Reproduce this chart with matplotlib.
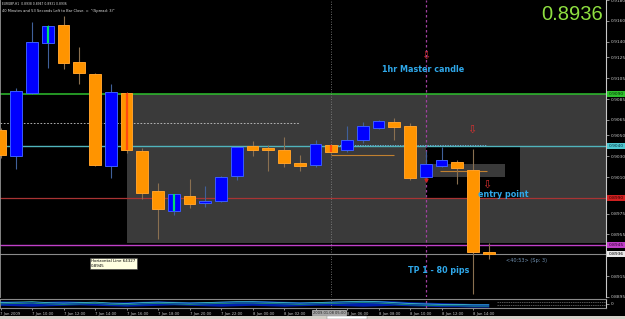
import matplotlib
matplotlib.use('Agg')
import matplotlib.pyplot as plt
from matplotlib.patches import Rectangle
import matplotlib.transforms as mtransforms

# ---------------- data ----------------
hours = list(range(32))  # 0 = 7 Jan 08:00, hourly bars
opens = [0.9055, 0.9030, 0.9091, 0.9139, 0.9156, 0.9121, 0.9109, 0.9021, 0.9091, 0.9035,
         0.8997, 0.8978, 0.8992, 0.8985, 0.8987, 0.9011, 0.9040, 0.9038, 0.9036, 0.9024,
         0.9022, 0.9041, 0.9036, 0.9046, 0.9057, 0.9063, 0.9059, 0.9010, 0.9021, 0.9025,
         0.9017, 0.8938]
highs = [0.9057, 0.9096, 0.9159, 0.9156, 0.9165, 0.9135, 0.9110, 0.9099, 0.9092, 0.9038,
         0.9004, 0.8994, 0.9008, 0.9002, 0.9011, 0.9039, 0.9045, 0.9041, 0.9049, 0.9031,
         0.9046, 0.9042, 0.9059, 0.9063, 0.9065, 0.9067, 0.9062, 0.9035, 0.9039, 0.9026,
         0.9037, 0.8947]
lows = [0.9028, 0.9018, 0.9090, 0.9115, 0.9114, 0.9099, 0.9021, 0.9009, 0.9033, 0.8989,
        0.8951, 0.8974, 0.8980, 0.8981, 0.8986, 0.9007, 0.9030, 0.9016, 0.9020, 0.9016,
        0.9020, 0.9033, 0.9034, 0.9043, 0.9056, 0.9046, 0.9007, 0.9008, 0.9020, 0.9003,
        0.8898, 0.8931]
closes = [0.9031, 0.9093, 0.9140, 0.9155, 0.9120, 0.9110, 0.9022, 0.9092, 0.9036, 0.8995,
          0.8979, 0.8994, 0.8984, 0.8987, 0.9010, 0.9039, 0.9036, 0.9036, 0.9024, 0.9021,
          0.9042, 0.9034, 0.9046, 0.9059, 0.9064, 0.9058, 0.9009, 0.9023, 0.9026, 0.9019,
          0.8938, 0.8936]
green_marked = [3, 11]
red_marked = [8, 21]

time_tick_idx = list(range(0, 31, 2))
time_tick_labels = ["7 Jan 2009", "7 Jan 10:00", "7 Jan 12:00", "7 Jan 14:00", "7 Jan 16:00",
                    "7 Jan 18:00", "7 Jan 20:00", "7 Jan 22:00", "8 Jan 00:00", "8 Jan 02:00",
                    "", "8 Jan 06:00", "8 Jan 08:00", "8 Jan 10:00", "8 Jan 12:00",
                    "8 Jan 14:00"]
price_ticks = [0.9180, 0.9160, 0.9140, 0.9125, 0.9105, 0.9085, 0.9065, 0.9050, 0.9030,
               0.9010, 0.8975, 0.8955, 0.8915, 0.8895]

level_green = 0.9090
level_cyan = 0.9040
level_red = 0.8990
level_magenta = 0.8945
bid = 0.8936
zone_bottom = 0.8947

ind_hi = [0.80, 0.75, 0.70, 0.75, 0.80, 0.75, 0.70, 0.65, 0.70, 0.75, 0.80, 0.75, 0.70, 0.70,
          0.75, 0.80, 0.85, 0.80, 0.75, 0.70, 0.70, 0.75, 0.80, 0.85, 0.85, 0.80, 0.70, 0.65,
          0.60, 0.55, 0.50, 0.50]
ind_lo = [0.30, 0.25, 0.20, 0.25, 0.30, 0.35, 0.30, 0.25, 0.20, 0.25, 0.30, 0.35, 0.30, 0.25,
          0.20, 0.25, 0.30, 0.25, 0.20, 0.25, 0.30, 0.30, 0.25, 0.20, 0.25, 0.30, 0.25, 0.20,
          0.15, 0.15, 0.10, 0.10]
ind_line = [0.60, 0.65, 0.70, 0.60, 0.55, 0.60, 0.65, 0.55, 0.50, 0.60, 0.65, 0.60, 0.55, 0.60,
            0.65, 0.70, 0.70, 0.65, 0.60, 0.55, 0.60, 0.65, 0.70, 0.75, 0.70, 0.60, 0.50, 0.45,
            0.40, 0.40, 0.35, 0.35]

# ---------------- figure ----------------
W, H = 625, 319
fig = plt.figure(figsize=(W / 100, H / 100), dpi=100, facecolor='black')

def fx(px):
    return px / W

def fy(py):
    return 1 - py / H

ax = fig.add_axes([0, fy(297), fx(606), 297 / H])
ax.set_facecolor('black')
XMIN, XMAX = -0.5 / 15.75, 605.5 / 15.75
ax.set_xlim(XMIN, XMAX)
ax.set_ylim(0.889896, 0.918002)

# zones
ax.add_patch(Rectangle((8, zone_bottom), 40, level_green - zone_bottom,
                       facecolor='#3a3a3a', edgecolor='none', zorder=1))
ax.add_patch(Rectangle((27, level_red), 6, level_cyan - level_red,
                       facecolor='black', edgecolor='none', zorder=1.1))
ax.add_patch(Rectangle((27, 0.9010), 5, 0.0013,
                       facecolor='#3a3a3a', edgecolor='none', zorder=1.2))

# horizontal levels
ax.axhline(level_green, color='#2ec02e', lw=1.1, zorder=2)
ax.axhline(level_cyan, color='#50b4bc', lw=1.0, zorder=2)
ax.axhline(level_red, color='#a83434', lw=0.9, zorder=2)
ax.axhline(level_magenta, color='#c040c8', lw=1.0, zorder=2)
ax.axhline(bid, color='#8a8a8a', lw=0.8, zorder=2)
ax.hlines(0.9062, XMIN, 18.95, colors='#c8c8c8', lw=0.6, linestyles=(0, (2, 2)), zorder=2)
ax.hlines(0.9041, 21.05, 30.9, colors='#70b8e0', lw=0.6, linestyles=(0, (1.5, 1.5)), zorder=2.1)
ax.hlines(0.9031, 21, 25, colors='#c08030', lw=0.8, zorder=2.2)
ax.hlines(0.9016, 27.9, 30.9, colors='#c08030', lw=0.8, zorder=2.2)

# vertical lines
ax.axvline(21, color='#8a8a8a', lw=0.6, linestyle=(0, (1, 2)), zorder=2)
ax.axvline(27, color='#a040a0', lw=0.9, linestyle=(0, (2, 2)), zorder=2)

# candles
for i, o, h, l, c in zip(hours, opens, highs, lows, closes):
    up = c >= o
    fill = '#0000ff' if up else '#ff9400'
    edge = '#3a5cff' if up else '#ffa028'
    wick = '#40609a' if up else '#8a7050'
    ax.vlines(i, l, h, colors=wick, lw=0.8, zorder=3)
    bottom = min(o, c)
    height = max(abs(c - o), 0.00012)
    ax.bar(i, height, width=0.76, bottom=bottom, color=fill, edgecolor=edge,
           linewidth=0.7, zorder=4)
for i in green_marked:
    ax.vlines(i, min(opens[i], closes[i]), max(opens[i], closes[i]),
              colors='#00e070', lw=1.6, zorder=5)
for i in red_marked:
    ax.vlines(i, min(opens[i], closes[i]), max(opens[i], closes[i]),
              colors='#ff4a10', lw=1.6, zorder=5)

# arrows
for (xa, ya) in [(27, 0.9126), (29.9, 0.9055), (30.9, 0.9003)]:
    ax.text(xa, ya, '\u21e9', color='#d83030', fontsize=8, ha='center', va='center',
            family='DejaVu Sans', zorder=6)
ax.plot([27], [0.9007], marker='v', color='#d02020', markersize=2.2, zorder=6)

# annotations
txt_col = '#2fa8ea'
ax.text(24.22, 0.9113, '1hr Master candle', color=txt_col, fontsize=5.8,
        fontweight='bold', ha='left', va='center', zorder=7)
ax.text(30.32, 0.8993, 'entry point', color=txt_col, fontsize=5.8,
        fontweight='bold', ha='left', va='center', zorder=7)
ax.text(25.87, 0.8920, 'TP 1 - 80 pips', color=txt_col, fontsize=5.8,
        fontweight='bold', ha='left', va='center', zorder=7)
ax.text(32.1, 0.8930, '<40:53> (Sp: 3)', color='#7090b0', fontsize=3.6,
        ha='left', va='center', zorder=7)
ax.text(5.75, 0.8931, 'Horizontal Line 64327\n0.8945', color='black', fontsize=2.9,
        ha='left', va='top', linespacing=1.2, zorder=8,
        bbox=dict(boxstyle='square,pad=0.3', facecolor='#ffffe1', edgecolor='#404040',
                  linewidth=0.4))

# axes styling
ax.set_xticks([])
ax.yaxis.tick_right()
ax.set_yticks(price_ticks)
ax.set_yticklabels([f'{v:.4f}' for v in price_ticks])
ax.tick_params(axis='y', colors='#c8c8c8', labelsize=3.2, length=2, width=0.5, pad=1.5)
for s in ['top', 'bottom']:
    ax.spines[s].set_visible(False)
ax.spines['left'].set_color('#9a9a9a')
ax.spines['left'].set_linewidth(0.6)
ax.spines['right'].set_color('#c8c8c8')
ax.spines['right'].set_linewidth(0.8)

# coloured price labels on the right
bt = mtransforms.blended_transform_factory(ax.transAxes, ax.transData)
for val, fc, tc in [(level_green, '#2ec02e', '#003000'), (level_cyan, '#50c8d0', '#003040'),
                    (level_red, '#d02020', '#300000'), (level_magenta, '#c040c8', '#300030'),
                    (bid, '#e8e8e8', '#000000')]:
    ax.text(1.004, val, f'{val:.4f}', transform=bt, fontsize=3.2, color=tc,
            ha='left', va='center', zorder=9, clip_on=False,
            bbox=dict(boxstyle='square,pad=0.25', facecolor=fc, edgecolor='none'))

# indicator strip
ai = fig.add_axes([0, fy(308), fx(606), 9 / H])
ai.set_facecolor('black')
ai.set_xlim(XMIN, XMAX)
ai.set_ylim(0, 1)
ai.fill_between(hours, ind_lo, ind_hi, color='#0020b0', lw=0, zorder=2)
ai.plot(hours, ind_line, color='#40c0c0', lw=0.6, zorder=3)
ai.plot(hours, [v - 0.15 for v in ind_line], color='#20a060', lw=0.5, zorder=3)
ai.hlines([0.35, 0.65], 31.5, XMAX, colors='#7a7a7a', lw=0.5, linestyles=(0, (2, 1.2)))
ai.axvline(21, color='#8a8a8a', lw=0.6, linestyle=(0, (1, 2)))
ai.axvline(27, color='#a040a0', lw=0.9, linestyle=(0, (2, 2)))
ai.yaxis.tick_right()
ai.set_yticks([0.5])
ai.set_yticklabels(['0'])
ai.tick_params(axis='y', colors='#c8c8c8', labelsize=3.2, length=2, width=0.5, pad=1.5)
ai.set_xticks(time_tick_idx)
ai.set_xticklabels(time_tick_labels)
ai.tick_params(axis='x', colors='#c8c8c8', labelsize=2.7, length=1.5, width=0.5, pad=1.2)
for lab in ai.get_xticklabels():
    lab.set_ha('left')
for s in ['top', 'bottom']:
    ai.spines[s].set_color('#8a8a8a')
    ai.spines[s].set_linewidth(0.8)
ai.spines['left'].set_color('#9a9a9a')
ai.spines['left'].set_linewidth(0.6)
ai.spines['right'].set_color('#c8c8c8')
ai.spines['right'].set_linewidth(0.8)

# current cursor time box (covers the 04:00 label, as in the terminal)
ct = mtransforms.blended_transform_factory(ai.transData, fig.transFigure)
fig.text(20.85, fy(312.5), '2009.01.08 05:00', transform=ct, fontsize=2.6, color='#202020',
         ha='center', va='center', zorder=10,
         bbox=dict(boxstyle='square,pad=0.2', facecolor='#a8a8a8', edgecolor='#e0e0e0',
                   linewidth=0.4))

# header texts
fig.text(fx(2), fy(4), 'EURGBP,H1  0.8938 0.8947 0.8931 0.8936', color='#e0e0e0',
         fontsize=2.2, ha='left', va='center')
fig.text(fx(2), fy(11), '40 Minutes and 53 Seconds Left to Bar Close. =  "(Spread: 3)"',
         color='#e0e0e0', fontsize=2.6, ha='left', va='center')
fig.text(fx(603), fy(15), '0.8936', color='#8fe040', fontsize=14.5,
         family='Liberation Sans', ha='right', va='center')

# bottom window tabs strip
fig.patches.append(Rectangle((0, 0), 1, 3 / H, transform=fig.transFigure,
                             facecolor='#d4d0c8', edgecolor='none', zorder=0))
fig.patches.append(Rectangle((fx(327), 0), 40 / W, 3 / H, transform=fig.transFigure,
                             facecolor='#ffffff', edgecolor='#808080', lw=0.3, zorder=1))

fig.savefig('out.png', dpi=100, facecolor='black')
